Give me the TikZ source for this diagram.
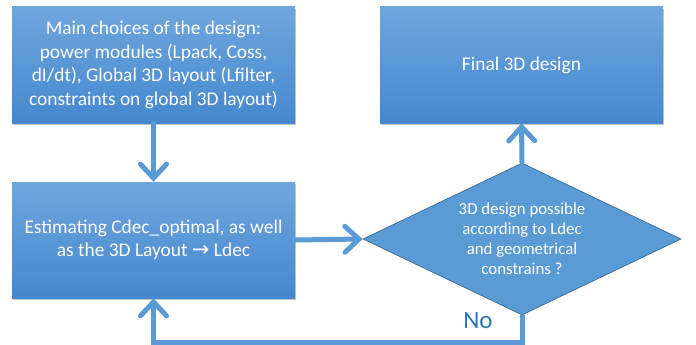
\documentclass[tikz,border=0pt]{standalone}
\usepackage{fontspec}
\setmainfont{Carlito}
\newfontfamily\symfont{DejaVu Sans}
\usetikzlibrary{arrows.meta,shapes.geometric,shadows}
\definecolor{boxtop}{HTML}{6FA6DE}
\definecolor{boxbot}{HTML}{4588CE}
\definecolor{lineblue}{HTML}{5B9BD5}
\definecolor{dborder}{HTML}{41719C}
\definecolor{nob}{HTML}{2E75B6}
\tikzset{
  stepbox/.style={rectangle, minimum width=283pt, minimum height=116pt, inner sep=0pt,
    top color=boxtop, bottom color=boxbot, draw=none, text=white, align=center,
    drop shadow={shadow xshift=1.2pt, shadow yshift=-1.6pt, opacity=0.35, fill=black!60},
    font=\fontsize{19.4}{23.5}\selectfont},
  decbox/.style={diamond, aspect=2.09, minimum width=318pt, minimum height=152pt, inner sep=0pt,
    fill=lineblue, draw=dborder, line width=0.8pt, text=white, align=center,
    font=\fontsize{16.8}{20}\selectfont},
  arr/.style={draw=lineblue, line width=5pt, line cap=round,
    -{Straight Barb[length=14pt, width=26pt, line cap=round]}},
  nolabel/.style={text=nob, font=\fontsize{25}{27}\selectfont}
}
\begin{document}
\begin{tikzpicture}[x=1pt, y=-1pt]
\useasboundingbox (0,0) rectangle (696,345);
\node[stepbox] (b1) at (153.5,65) {Main choices of the design:\\power modules (Lpack, Coss,\\dI/dt), Global 3D layout (Lfilter,\\constraints on global 3D layout)};
\node[stepbox] (b2) at (153.5,240) {Estimating Cdec\_optimal, as well\\as the 3D Layout {\symfont\fontsize{21}{20}\selectfont →} Ldec};
\node[stepbox] (b3) at (521.5,65) {Final 3D design};
\node[decbox] (d) at (522,239) {3D design possible\\according to Ldec\\and geometrical\\constrains ?};
\coordinate (loop) at (153.5,342);
\node[nolabel] (no) at (478,321) {No};
\draw[arr] (b1.south) -- (b2.north);
\draw[arr] (b2.east) -- (d.west);
\draw[arr] (d.north) -- (b3.south);
\draw[arr, line cap=butt] (d.south) |- (loop) -- (b2.south);
\end{tikzpicture}
\end{document}
